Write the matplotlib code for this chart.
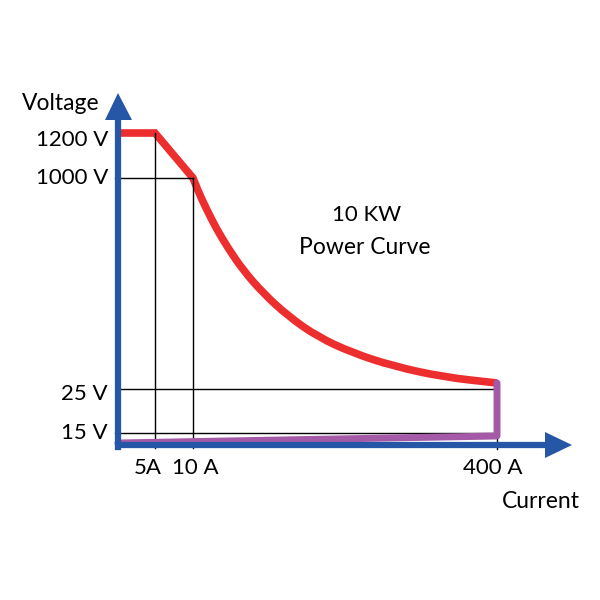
import matplotlib.pyplot as plt
from matplotlib.path import Path
from matplotlib.patches import PathPatch

plt.rcParams['font.family'] = ['Lato', 'DejaVu Sans']

# schematic positions (not to scale), origin at the axes corner
current_labels = ['5A', '10 A', '400 A']
current_pos = [37, 75, 379]
voltage_labels = ['1200 V', '1000 V', '25 V', '15 V']
voltage_pos = [312, 267, 59, 12]

# constant-voltage part and constant-power curve
red_x = [0, 37, 75, 80, 88, 98, 110, 125, 145, 170, 200, 235, 275, 325, 379]
red_y = [312, 312, 267, 254, 237, 217, 197, 175, 152, 129, 108, 92, 79, 68, 62]
purple_x = [379, 379, 0]
purple_y = [62, 9, 2]

RED = '#ec2e2e'
PURPLE = '#a55aa8'
BLUE = '#2657a6'

fig = plt.figure(figsize=(6, 6), dpi=100)
ax = fig.add_axes([0, 0, 1, 1])
ax.set_xlim(-118, 482)
ax.set_ylim(-155, 445)
ax.axis('off')

# guide lines
ax.plot([current_pos[0]] * 2, [voltage_pos[0], -3], color='black', lw=1)
ax.plot([current_pos[1]] * 2, [voltage_pos[1], -3], color='black', lw=1)
ax.plot([current_pos[2]] * 2, [voltage_pos[2], -4], color='black', lw=1)
ax.plot([-3, current_pos[1]], [voltage_pos[1]] * 2, color='black', lw=1)
ax.plot([0, current_pos[2]], [voltage_pos[2] - 3] * 2, color='black', lw=1)
ax.plot([-3, current_pos[2]], [voltage_pos[3]] * 2, color='black', lw=1)

# red curve: straight to the knee, then smoothed through the read points
pts = list(zip(red_x, red_y))
verts = [pts[0], pts[1], pts[2]]
codes = [Path.MOVETO, Path.LINETO, Path.LINETO]
for i in range(3, len(pts) - 1):
    nxt = ((pts[i][0] + pts[i + 1][0]) / 2, (pts[i][1] + pts[i + 1][1]) / 2)
    verts += [pts[i], nxt]
    codes += [Path.CURVE3, Path.CURVE3]
verts.append(pts[-1])
codes.append(Path.LINETO)
ax.add_patch(PathPatch(Path(verts, codes), facecolor='none', edgecolor=RED,
                       lw=5.5, joinstyle='miter', capstyle='butt'))

ax.plot(purple_x, purple_y, color=PURPLE, lw=5, solid_capstyle='round')

# axes with arrows
ax.plot([0, 0], [0, 330], color=BLUE, lw=4.5, solid_capstyle='butt')
ax.plot([-2, 430], [0, 0], color=BLUE, lw=4.5, solid_capstyle='butt')
ax.plot([0, 0], [-2, 0], color=BLUE, lw=4.5)
ax.fill([-13, 0, 14], [325, 352, 325], color=BLUE, lw=0)
ax.fill([427, 454, 427], [13, 0, -13], color=BLUE, lw=0)

fs = 16
ax.text(-18, 341, 'Voltage', ha='right', va='center', fontsize=16.5)
ax.text(-10, 305, voltage_labels[0], ha='right', va='center', fontsize=fs)
ax.text(-10, voltage_pos[1], voltage_labels[1], ha='right', va='center', fontsize=fs)
ax.text(-10, 51, voltage_labels[2], ha='right', va='center', fontsize=fs)
ax.text(-10, voltage_pos[3], voltage_labels[3], ha='right', va='center', fontsize=fs)
ax.text(30, -23, current_labels[0], ha='center', va='center', fontsize=fs)
ax.text(77, -23, current_labels[1], ha='center', va='center', fontsize=fs)
ax.text(375, -23, current_labels[2], ha='center', va='center', fontsize=fs)
ax.text(384, -56, 'Current', ha='left', va='center', fontsize=16.5)
ax.text(249, 230, '10 KW', ha='center', va='center', fontsize=fs)
ax.text(247, 197, 'Power Curve', ha='center', va='center', fontsize=16.5)

fig.savefig('out.png', dpi=100, facecolor='white')
